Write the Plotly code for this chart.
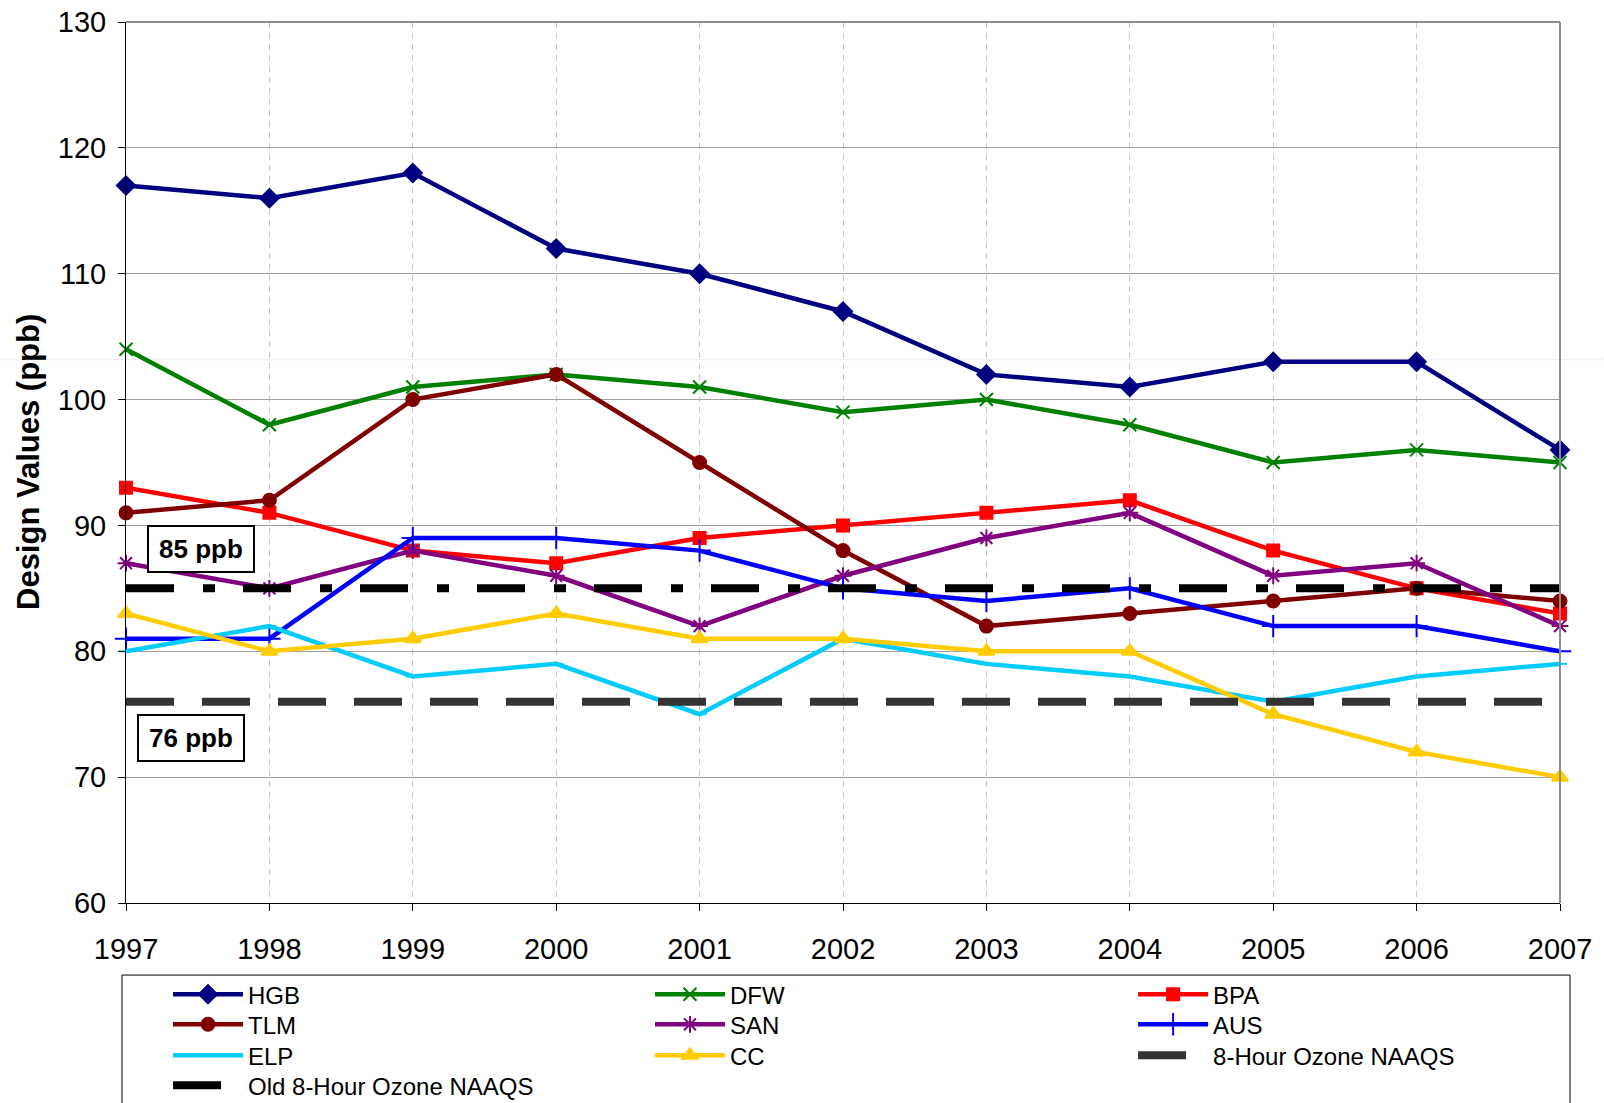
import plotly.graph_objects as go

# Ozone design values by area, 1997-2007
years = [1997, 1998, 1999, 2000, 2001, 2002, 2003, 2004, 2005, 2006, 2007]

hgb = [117, 116, 118, 112, 110, 107, 102, 101, 103, 103, 96]
dfw = [104, 98, 101, 102, 101, 99, 100, 98, 95, 96, 95]
bpa = [93, 91, 88, 87, 89, 90, 91, 92, 88, 85, 83]
tlm = [91, 92, 100, 102, 95, 88, 82, 83, 84, 85, 84]
san = [87, 85, 88, 86, 82, 86, 89, 91, 86, 87, 82]
aus = [81, 81, 89, 89, 88, 85, 84, 85, 82, 82, 80]
elp = [80, 82, 78, 79, 75, 81, 79, 78, 76, 78, 79]
cc = [83, 80, 81, 83, 81, 81, 80, 80, 75, 72, 70]

naaqs_8hr = [76, 76, 76, 76, 76, 76, 76, 76, 76, 76, 76]
naaqs_old = [85, 85, 85, 85, 85, 85, 85, 85, 85, 85, 85]

FONT = "Liberation Sans, Arial, sans-serif"

# name, values, colour, marker, marker size, legend slot (col, row)
series = [
    ("HGB", hgb, "#000080", "diamond", 14, (0, 0)),
    ("DFW", dfw, "#008000", "x-thin", 13, (1, 0)),
    ("BPA", bpa, "#FF0000", "square", 12, (2, 0)),
    ("TLM", tlm, "#800000", "circle", 13, (0, 1)),
    ("SAN", san, "#800080", "asterisk", 14, (1, 1)),
    ("AUS", aus, "#0000FF", "cross-thin", 16, (2, 1)),
    ("ELP", elp, "#00CCFF", "line-ew", 10, (0, 2)),
    ("CC", cc, "#FFCC00", "triangle-up", 14, (1, 2)),
]

# legend grid (paper coords): one small legend per entry
leg_x = [0.0293, 0.3654, 0.7023]
leg_y = [-0.0785, -0.1126, -0.1478, -0.1819]

fig = go.Figure()
legends = {}


def legend_name(i):
    return "legend" if i == 0 else f"legend{i + 1}"


def add_legend(i, col, row):
    legends[legend_name(i)] = dict(
        x=leg_x[col],
        y=leg_y[row],
        xanchor="left",
        yanchor="top",
        itemwidth=70,
        bgcolor="rgba(0,0,0,0)",
        borderwidth=0,
        maxheight=200,
        font=dict(family=FONT, size=24, color="black"),
    )


for i, (name, vals, color, symbol, size, (col, row)) in enumerate(series):
    fig.add_trace(
        go.Scatter(
            x=years,
            y=vals,
            name=name,
            mode="lines+markers",
            line=dict(color=color, width=4.5),
            marker=dict(symbol=symbol, size=size, color=color,
                        line=dict(color=color, width=2)),
            cliponaxis=False,
            legend=legend_name(i),
        )
    )
    add_legend(i, col, row)

# standard lines
fig.add_trace(
    go.Scatter(
        x=years, y=naaqs_8hr, name="8-Hour Ozone NAAQS", mode="lines",
        line=dict(color="#333333", width=8, dash="48px,28px"),
        legend=legend_name(8),
    )
)
add_legend(8, 2, 2)
fig.add_trace(
    go.Scatter(
        x=years, y=naaqs_old, name="Old 8-Hour Ozone NAAQS", mode="lines",
        line=dict(color="#000000", width=8, dash="48px,29px,12px,28px"),
        legend=legend_name(9),
    )
)
add_legend(9, 0, 3)

fig.update_xaxes(
    range=[1997, 2007],
    tickmode="array",
    tickvals=years,
    showgrid=True,
    gridcolor="#C8C8C8",
    griddash="6px,5px",
    gridwidth=1,
    showline=True,
    linecolor="black",
    linewidth=1,
    ticks="outside",
    ticklen=7,
    tickcolor="black",
    ticklabelstandoff=13,
    tickfont=dict(family=FONT, size=29, color="black"),
    zeroline=False,
)
fig.update_yaxes(
    range=[60, 130],
    dtick=10,
    showgrid=True,
    gridcolor="#A0A0A0",
    gridwidth=1,
    showline=True,
    linecolor="black",
    linewidth=1,
    ticks="outside",
    ticklen=7,
    tickcolor="black",
    ticklabelstandoff=6,
    tickfont=dict(family=FONT, size=29, color="black"),
    zeroline=False,
)

annotations = [
    dict(text="<b>Design Values (ppb)</b>", xref="paper", yref="paper",
         x=0, y=0.5, xshift=-117, textangle=-90, showarrow=False,
         font=dict(family=FONT, size=31, color="black")),
    dict(text="<b>85 ppb</b>", xref="x", yref="y", x=1997.52, y=88.1,
         showarrow=False, width=96, height=36, borderpad=4,
         bordercolor="black", borderwidth=2, bgcolor="white",
         font=dict(family=FONT, size=26, color="black")),
    dict(text="<b>76 ppb</b>", xref="x", yref="y", x=1997.45, y=73.1,
         showarrow=False, width=96, height=36, borderpad=4,
         bordercolor="black", borderwidth=2, bgcolor="white",
         font=dict(family=FONT, size=26, color="black")),
]

shapes = [
    # gray top and right border of the plot area
    dict(type="line", xref="paper", yref="paper", x0=0, x1=1, y0=1, y1=1,
         line=dict(color="#8C8C8C", width=2)),
    dict(type="line", xref="paper", yref="paper", x0=1, x1=1, y0=0, y1=1,
         line=dict(color="#8C8C8C", width=2)),
    # faint stray rule from the source image
    dict(type="line", xref="paper", yref="paper", x0=-0.09, x1=1.03,
         y0=0.6167, y1=0.6167, line=dict(color="#ECECF4", width=1),
         layer="below"),
    # legend frame
    dict(type="rect", xref="paper", yref="paper", x0=-0.0028, x1=1.007,
         y0=-0.0818, y1=-0.3, line=dict(color="black", width=1),
         layer="below"),
]

fig.update_layout(
    width=1604,
    height=1103,
    margin=dict(l=126, r=44, t=22, b=200, autoexpand=False),
    paper_bgcolor="white",
    plot_bgcolor="white",
    showlegend=True,
    annotations=annotations,
    shapes=shapes,
    **legends,
)

# drop the default 8px body margin so the figure sits at the page corner
fig.write_html(
    "out.html",
    config={"displayModeBar": False},
    post_script="document.body.style.margin='0';"
                "document.body.style.overflow='hidden';",
)
